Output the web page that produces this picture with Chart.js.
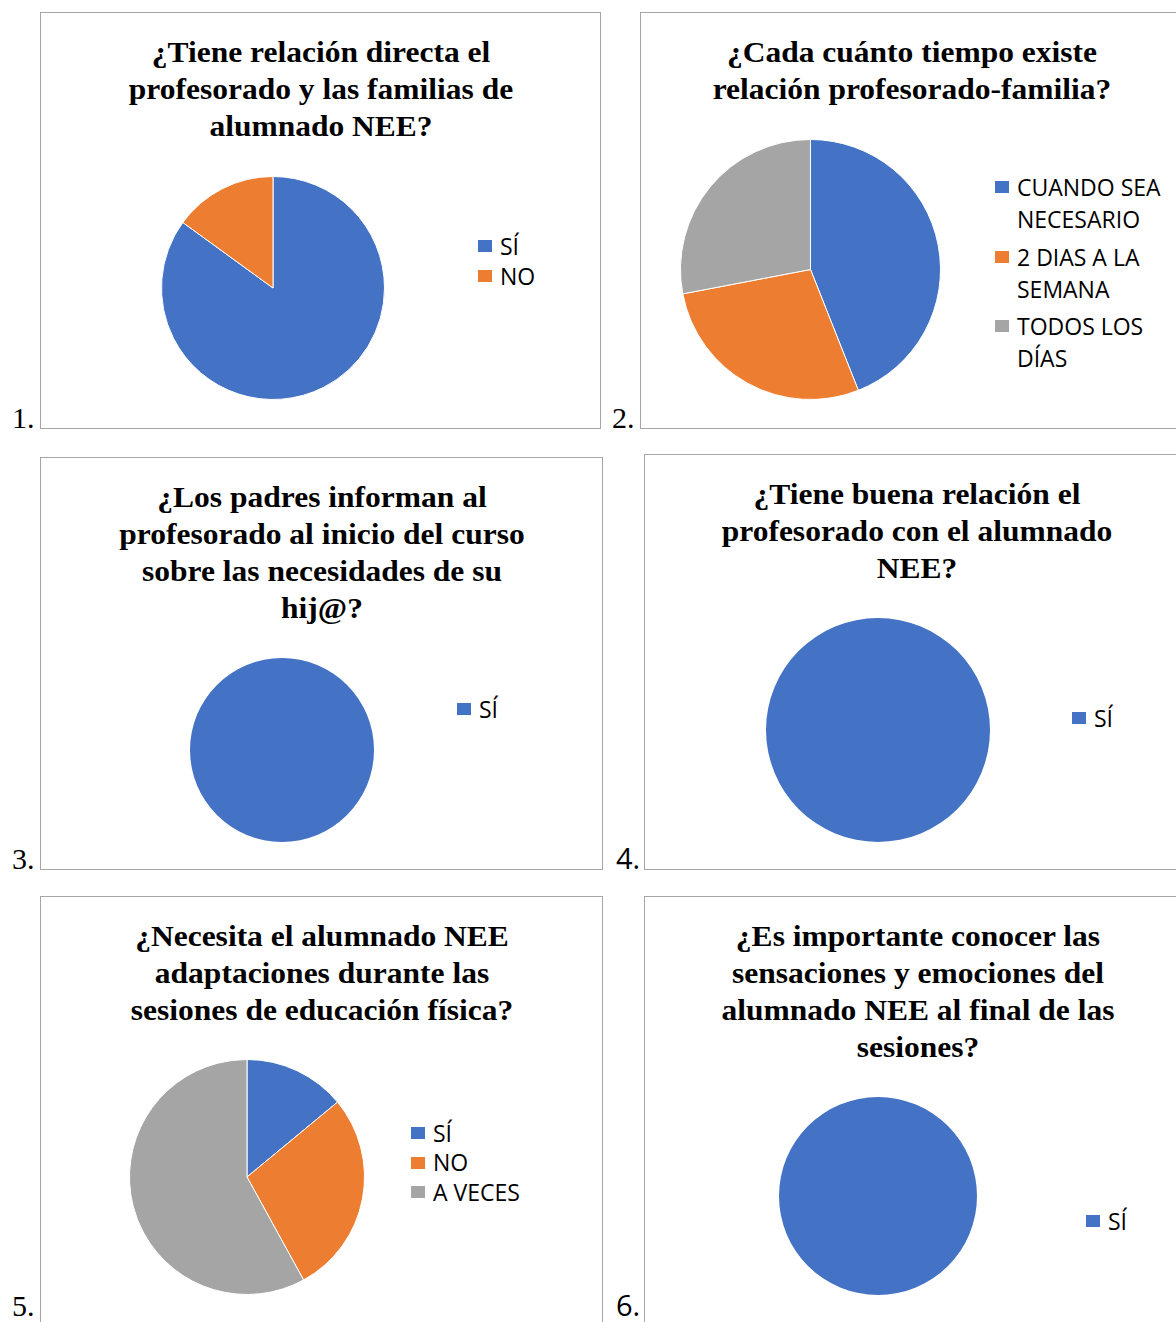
<!DOCTYPE html>
<html>
<head>
<meta charset="utf-8">
<script src="https://cdn.jsdelivr.net/npm/chart.js@4.4.0/dist/chart.umd.min.js"></script>
<style>
html,body{margin:0;padding:0;background:#fff;}
body{width:1176px;height:1322px;overflow:hidden;position:relative;}
.panel{position:absolute;border:1px solid #a6a6a6;box-sizing:border-box;background:#fff;}
.title{position:absolute;width:600px;text-align:center;font-family:'Liberation Serif','Times New Roman',serif;font-weight:bold;font-size:30px;line-height:37px;color:#000;transform:scaleX(1.05);white-space:nowrap;}
.num{position:absolute;color:#000;white-space:nowrap;line-height:22px;}
.serif{font-family:'Liberation Serif','Times New Roman',serif;font-size:30px;}
.sans{font-family:'Open Sans',sans-serif;font-size:29px;}
.legend{position:absolute;font-family:'Open Sans',sans-serif;font-size:23px;color:#000;}
.item{position:relative;padding-left:22px;}
.sw{position:absolute;left:0;width:14px;height:12px;}
canvas{position:absolute;}
</style>
</head>
<body>
<script>
// ---- DATA ----
const colors = ['#4472C4', '#ED7D31', '#A5A5A5'];

const title1 = ['¿Tiene relación directa el', 'profesorado y las familias de', 'alumnado NEE?'];
const labels1 = ['SÍ', 'NO'];
const values1 = [85, 15];

const title2 = ['¿Cada cuánto tiempo existe', 'relación profesorado-familia?'];
const labels2 = ['CUANDO SEA NECESARIO', '2 DIAS A LA SEMANA', 'TODOS LOS DÍAS'];
const values2 = [44, 28, 28];

const title3 = ['¿Los padres informan al', 'profesorado al inicio del curso', 'sobre las necesidades de su', 'hij@?'];
const labels3 = ['SÍ'];
const values3 = [100];

const title4 = ['¿Tiene buena relación el', 'profesorado con el alumnado', 'NEE?'];
const labels4 = ['SÍ'];
const values4 = [100];

const title5 = ['¿Necesita el alumnado NEE', 'adaptaciones durante las', 'sesiones de educación física?'];
const labels5 = ['SÍ', 'NO', 'A VECES'];
const values5 = [14, 28, 58];

const title6 = ['¿Es importante conocer las', 'sensaciones y emociones del', 'alumnado NEE al final de las', 'sesiones?'];
const labels6 = ['SÍ'];
const values6 = [100];

const numbers = ['1.', '2.', '3.', '4.', '5.', '6.'];

// ---- LAYOUT ----
const layout = [
  {box:[40,12,561,417],  tc:321, cx:272.5, cy:287.5, r:111.5, lx:478, ly:247, lh:30, gap:0, lw:200, nx:12, nb:428, nf:'serif'},
  {box:[640,12,544,417], tc:912, cx:810, cy:269, r:130, lx:995, ly:188, lh:32, gap:5.5, lw:185, nx:612, nb:428, nf:'serif'},
  {box:[40,457,563,413], tc:321.5, cx:281.5, cy:749.5, r:91.5, lx:457, ly:710, lh:30, gap:0, lw:200, nx:12, nb:869, nf:'serif'},
  {box:[644,454,546,416], tc:917, cx:877.5, cy:729.5, r:111.5, lx:1072, ly:719, lh:30, gap:0, lw:200, nx:616, nb:869, nf:'sans'},
  {box:[40,896,563,500], tc:321.5, cx:246.5, cy:1176.5, r:117.5, lx:411, ly:1134, lh:29.5, gap:0, lw:200, nx:12, nb:1316, nf:'serif'},
  {box:[644,896,548,500], tc:918, cx:877.5, cy:1195.5, r:98.5, lx:1086, ly:1222, lh:30, gap:0, lw:200, nx:616, nb:1316, nf:'sans'}
];

const sets = [
  [title1, labels1, values1],
  [title2, labels2, values2],
  [title3, labels3, values3],
  [title4, labels4, values4],
  [title5, labels5, values5],
  [title6, labels6, values6]
];

sets.forEach((s, i) => {
  const [title, labels, values] = s;
  const L = layout[i];
  const panel = document.createElement('div');
  panel.className = 'panel';
  Object.assign(panel.style, {left: L.box[0] + 'px', top: L.box[1] + 'px', width: L.box[2] + 'px', height: L.box[3] + 'px'});
  document.body.appendChild(panel);

  const t = document.createElement('div');
  t.className = 'title';
  t.style.left = (L.tc - 300) + 'px';
  t.style.top = (L.box[1] + 21.2) + 'px';
  title.forEach((line, k) => {
    if (k) t.appendChild(document.createElement('br'));
    t.appendChild(document.createTextNode(line));
  });
  document.body.appendChild(t);

  const n = document.createElement('div');
  n.className = 'num ' + L.nf;
  n.textContent = numbers[i];
  n.style.left = L.nx + 'px';
  n.style.top = (L.nb - (L.nf === 'serif' ? 21.1 : 22.2)) + 'px';
  document.body.appendChild(n);

  const S = Math.round(2 * L.r + 1);
  const c = document.createElement('canvas');
  c.width = S; c.height = S;
  c.style.left = (L.cx - S / 2) + 'px';
  c.style.top = (L.cy - S / 2) + 'px';
  document.body.appendChild(c);
  new Chart(c, {
    type: 'pie',
    data: {labels: labels, datasets: [{data: values, backgroundColor: colors.slice(0, values.length), borderColor: '#ffffff', borderWidth: values.length > 1 ? 1 : 0}]},
    options: {responsive: false, animation: false, events: [], layout: {padding: 0},
      plugins: {legend: {display: false}, tooltip: {enabled: false}, title: {display: false}}}
  });

  const lg = document.createElement('div');
  lg.className = 'legend';
  lg.style.left = L.lx + 'px';
  lg.style.top = (L.ly - L.lh / 2 - 0.7) + 'px';
  lg.style.width = L.lw + 'px';
  lg.style.lineHeight = L.lh + 'px';
  labels.forEach((lab, k) => {
    const it = document.createElement('div');
    it.className = 'item';
    if (k) it.style.marginTop = L.gap + 'px';
    const sw = document.createElement('span');
    sw.className = 'sw';
    sw.style.background = colors[k];
    sw.style.top = (L.lh / 2 - 6) + 'px';
    it.appendChild(sw);
    it.appendChild(document.createTextNode(lab));
    lg.appendChild(it);
  });
  document.body.appendChild(lg);
});
</script>
</body>
</html>
